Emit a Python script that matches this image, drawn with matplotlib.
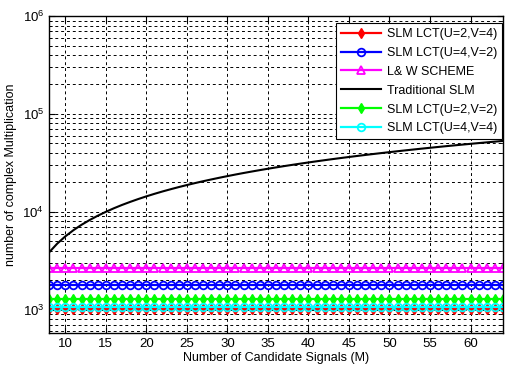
import matplotlib
matplotlib.use("Agg")
import matplotlib.pyplot as plt
from matplotlib.ticker import LogLocator, NullFormatter

plt.rcParams['font.family'] = ['Liberation Sans', 'DejaVu Sans']

M = list(range(8, 65))
traditional = [3850, 4730, 5610, 6490, 7370, 8240, 9120, 10000, 10880, 11760,
               12630, 13510, 14390, 15270, 16150, 17020, 17900, 18780, 19660, 20540,
               21410, 22290, 23170, 24050, 24930, 25800, 26680, 27560, 28440, 29320,
               30190, 31070, 31950, 32830, 33710, 34580, 35460, 36340, 37220, 38100,
               38970, 39850, 40730, 41610, 42490, 43360, 44240, 45120, 46000, 46880,
               47750, 48630, 49510, 50390, 51270, 52140, 53020]
lct_u2v4 = [1024] * len(M)
lct_u4v2 = [1792] * len(M)
lw_scheme = [2688] * len(M)
lct_u2v2 = [1280] * len(M)
lct_u4v4 = [1070] * len(M)

labels = ["SLM LCT(U=2,V=4)", "SLM LCT(U=4,V=2)", "L& W SCHEME",
          "Traditional SLM", "SLM LCT(U=2,V=2)", "SLM LCT(U=4,V=4)"]

fig = plt.figure(figsize=(5.06, 3.74), dpi=100)
ax = fig.add_axes([0.097, 0.110, 0.897, 0.847])

ax.plot(M, lct_u2v4, color='red', lw=1.6, marker='d', ms=5, label=labels[0])
ax.plot(M, lct_u4v2, color='blue', lw=1.6, marker='o', ms=5.5, mfc='none', mew=1.3, label=labels[1])
ax.plot(M, lw_scheme, color='magenta', lw=1.6, marker='^', ms=5.5, mfc='none', mew=1.3, label=labels[2])
ax.plot(M, traditional, color='black', lw=1.5, label=labels[3])
ax.plot(M, lct_u2v2, color='#00ff00', lw=1.6, marker='d', ms=5, label=labels[4])
ax.plot(M, lct_u4v4, color='cyan', lw=1.6, marker='o', ms=5.5, mfc='none', mew=1.3, label=labels[5])

ax.set_yscale('log')
ax.set_xlim(8, 64)
ax.set_ylim(580, 1e6)
ax.set_xticks([10, 15, 20, 25, 30, 35, 40, 45, 50, 55, 60])
ax.yaxis.set_major_locator(LogLocator(base=10, numticks=10))
ax.yaxis.set_minor_locator(LogLocator(base=10, subs=range(2, 10), numticks=20))
ax.yaxis.set_minor_formatter(NullFormatter())

gs = dict(color='black', lw=0.7, linestyle=(0, (3, 3)))
ax.grid(True, which='major', axis='both', **gs)
ax.grid(True, which='minor', axis='y', **gs)
ax.set_axisbelow(True)

ax.tick_params(which='both', direction='in', labelsize=9.5, top=True, right=True)
ax.tick_params(which='minor', length=2)
ax.tick_params(which='major', length=4)
for s in ax.spines.values():
    s.set_linewidth(1.0)

ax.set_xlabel("Number of Candidate Signals (M)", fontsize=9, labelpad=2)
ax.set_ylabel("number of complex Multiplication", fontsize=9, labelpad=4)

leg = ax.legend(loc='upper right', bbox_to_anchor=(0.998, 0.978), fontsize=9,
                fancybox=False, framealpha=1, edgecolor='black', handlelength=3.2,
                labelspacing=0.55, borderaxespad=0.0, handletextpad=0.5)
leg.get_frame().set_linewidth(0.8)

fig.savefig("out.png", dpi=100)
